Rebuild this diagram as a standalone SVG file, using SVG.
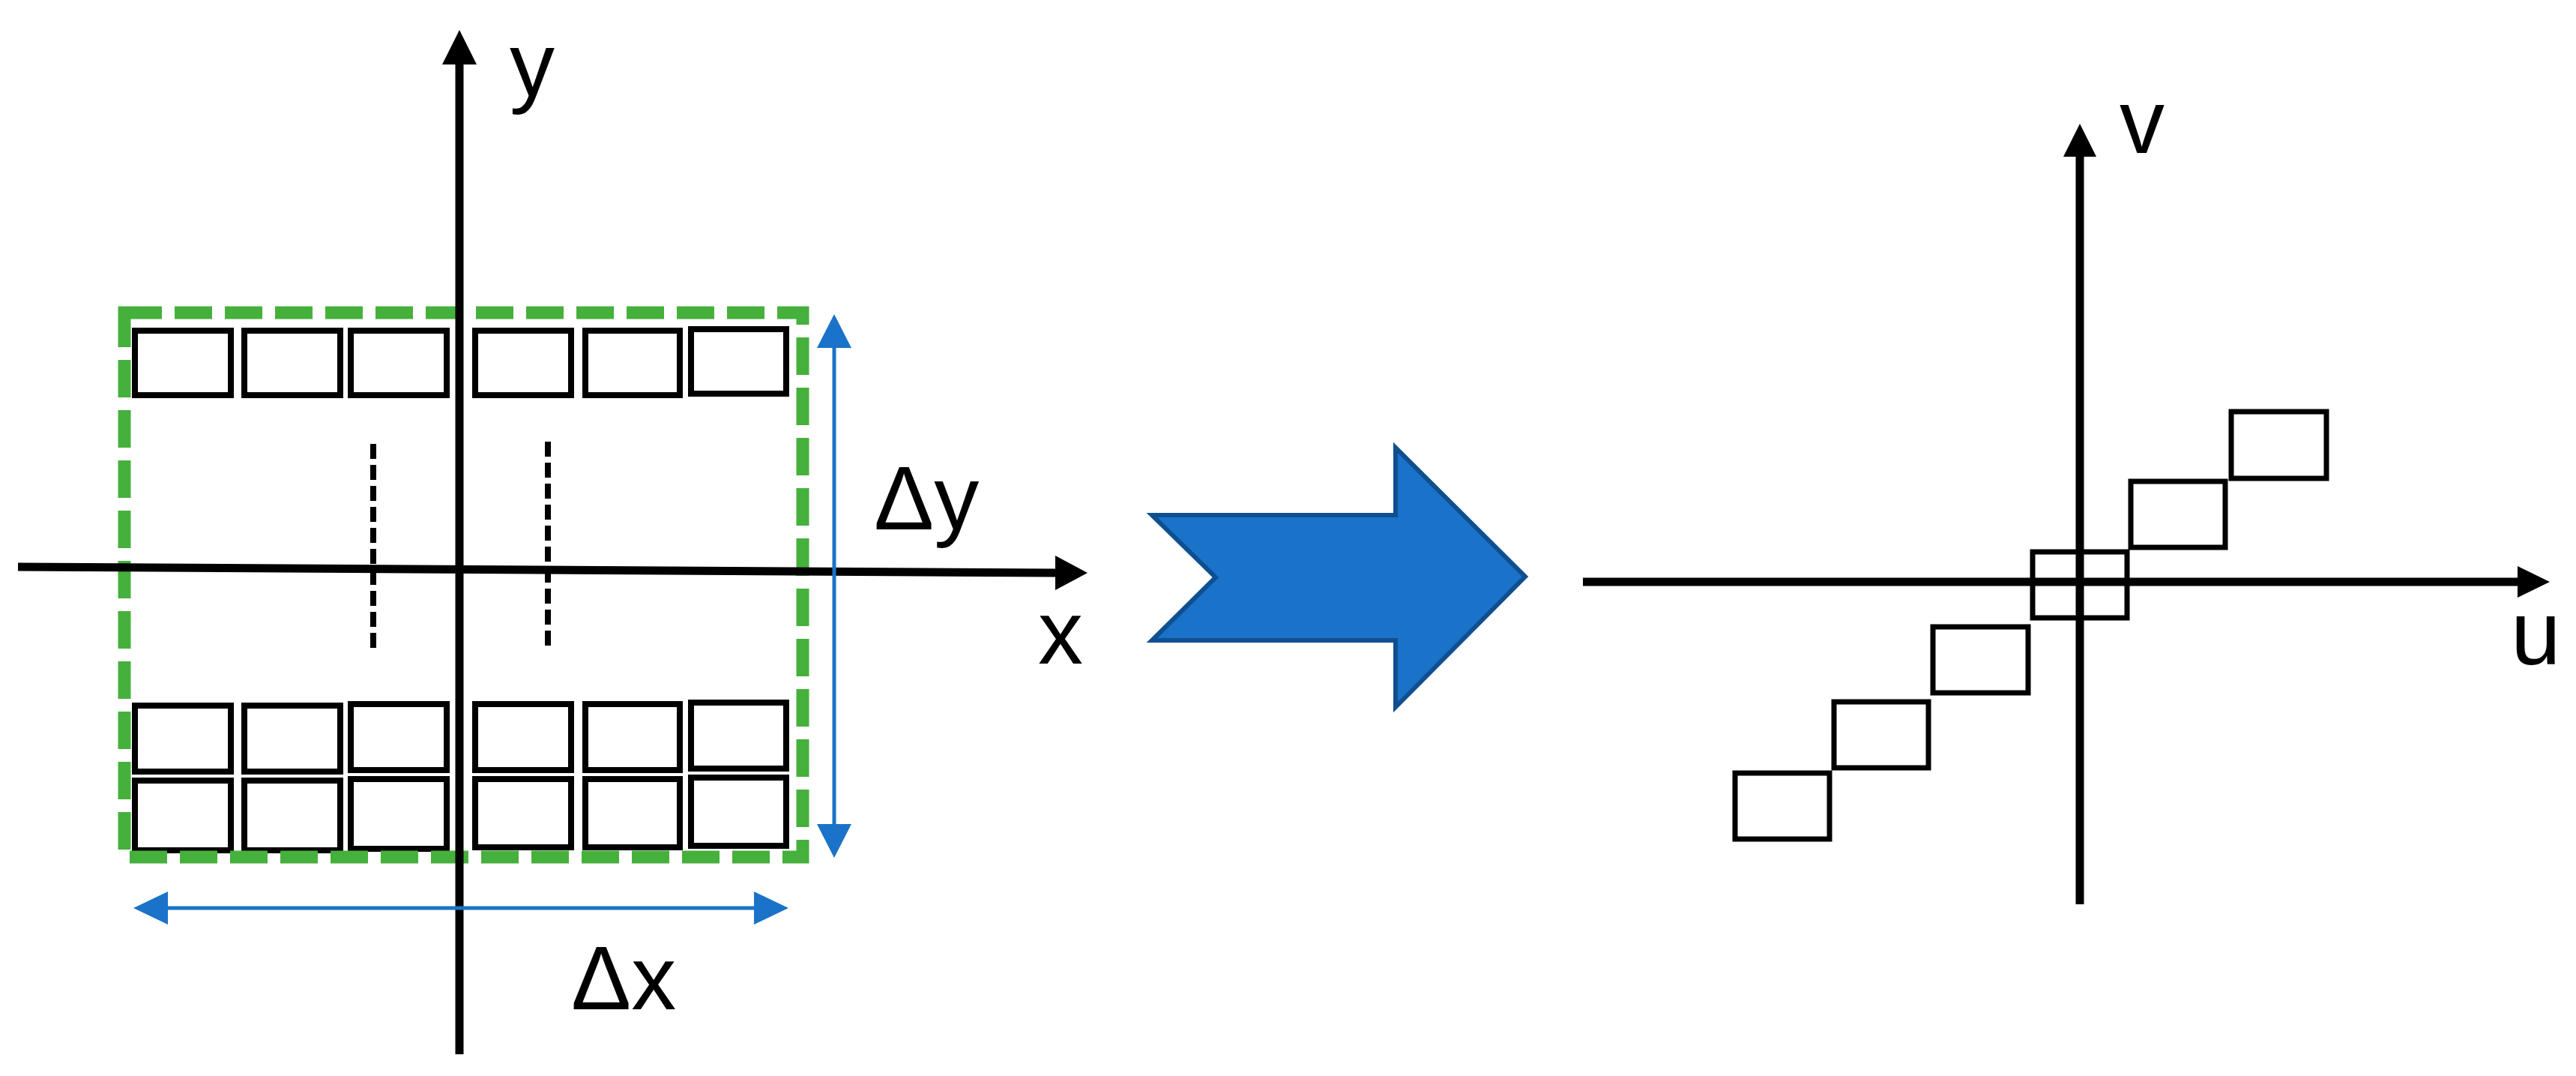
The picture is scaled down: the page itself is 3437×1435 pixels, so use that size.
<svg xmlns="http://www.w3.org/2000/svg" width="3437" height="1435" viewBox="0 0 3437 1435">
<style>
.ax{stroke:#000;stroke-width:11;fill:none}
.bx{stroke:#000;stroke-width:8;fill:none}
.sq{stroke:#000;stroke-width:7;fill:none}
.lb{font-family:"Liberation Sans",Arial,sans-serif;font-size:120px;fill:#000}
.bl{stroke:#1a73c8;stroke-width:5;fill:none}
</style>
<rect width="3437" height="1435" fill="#fff"/>
<g id="left-cells">
<g id="row1">
<rect class="bx" x="180" y="441" width="128" height="86"/><rect class="bx" x="326" y="441" width="128" height="86"/><rect class="bx" x="468" y="441" width="128" height="86"/><rect class="bx" x="634" y="441" width="128" height="86"/><rect class="bx" x="781" y="441" width="126" height="86"/><rect class="bx" x="922" y="439" width="127" height="86"/>
</g>
<g id="row2">
<rect class="bx" x="180" y="941" width="128" height="88"/><rect class="bx" x="326" y="941" width="128" height="88"/><rect class="bx" x="468" y="939" width="128" height="88"/><rect class="bx" x="634" y="939" width="128" height="88"/><rect class="bx" x="781" y="939" width="126" height="88"/><rect class="bx" x="922" y="937" width="127" height="88"/>
</g>
<g id="row3">
<rect class="bx" x="180" y="1041" width="128" height="93"/><rect class="bx" x="326" y="1041" width="128" height="93"/><rect class="bx" x="468" y="1039" width="128" height="93"/><rect class="bx" x="634" y="1039" width="128" height="91"/><rect class="bx" x="781" y="1039" width="126" height="91"/><rect class="bx" x="922" y="1037" width="127" height="91"/>
</g>
</g>
<g id="green-frame"><rect x="166" y="417" width="905" height="726" fill="none" stroke="#46b03c" stroke-width="17" stroke-dasharray="50 17"/></g>
<g id="connectors">
<line class="ax" x1="613" y1="1406" x2="613" y2="80"/>
<polygon points="613,40 590,86 636,86"/>
<line class="ax" x1="24" y1="756" x2="1410" y2="764"/>
<polygon points="1451,764 1408,741 1408,787"/>
<line x1="498" y1="592" x2="498" y2="869" stroke="#000" stroke-width="8" stroke-dasharray="20 8"/>
<line x1="731" y1="589" x2="731" y2="867" stroke="#000" stroke-width="8" stroke-dasharray="20 8"/>
<line class="bl" x1="1113" y1="460" x2="1113" y2="1103"/>
<polygon fill="#1a73c8" points="1113,419 1090,464 1136,464"/>
<polygon fill="#1a73c8" points="1113,1144 1090,1099 1136,1099"/>
<line class="bl" x1="220" y1="1211" x2="1010" y2="1211"/>
<polygon fill="#1a73c8" points="178,1211 224,1189 224,1233"/>
<polygon fill="#1a73c8" points="1052,1211 1006,1189 1006,1233"/>
<line class="ax" stroke-width="10" x1="2775" y1="1206" x2="2775" y2="200"/>
<polygon points="2775,165 2753,209 2797,209"/>
<line class="ax" stroke-width="10" x1="2112" y1="776" x2="3365" y2="776"/>
<polygon points="3402,776 3359,755 3359,797"/>
</g>
<g id="labels">
<text class="lb" x="680" y="128">y</text>
<text class="lb" x="1385" y="885">x</text>
<text class="lb" x="1166" y="706">Δy</text>
<text class="lb" x="762" y="1346">Δx</text>
<text class="lb" x="2828" y="204">v</text>
<text class="lb" x="3350" y="886">u</text>
</g>
<g id="transform-arrow"><polygon points="1537,687 1862,687 1862,597 2035,769 1862,943 1862,854 1537,854 1622,770" fill="#1a73c8" stroke="#0f4f91" stroke-width="6"/></g>
<g id="right-cells">
<rect class="sq" x="2315" y="1031" width="126" height="88"/>
<rect class="sq" x="2447" y="936" width="126" height="88"/>
<rect class="sq" x="2579" y="836" width="127" height="88"/>
<rect class="sq" x="2712" y="736" width="126" height="88"/>
<rect class="sq" x="2843" y="642" width="126" height="88"/>
<rect class="sq" x="2977" y="549" width="127" height="89"/>
</g>
</svg>
